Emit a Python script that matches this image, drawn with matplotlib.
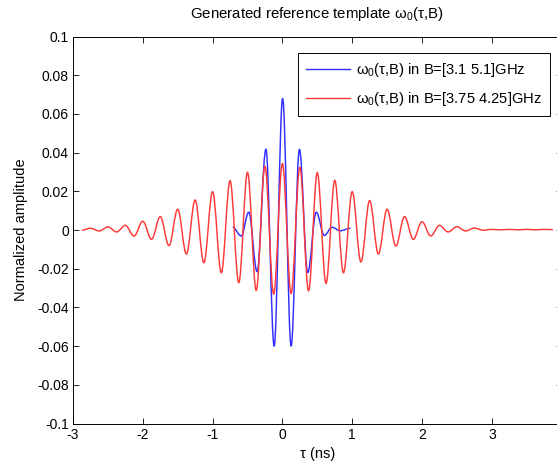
import matplotlib
matplotlib.use("Agg")
import matplotlib.pyplot as plt
from matplotlib.path import Path
from matplotlib.patches import PathPatch
from matplotlib.lines import Line2D

plt.rcParams['font.family'] = ['Liberation Sans', 'DejaVu Sans']
plt.rcParams['mathtext.fontset'] = 'custom'
plt.rcParams['mathtext.rm'] = 'Liberation Sans'
plt.rcParams['mathtext.it'] = 'Liberation Sans'

# ---- data (extrema of each waveform) ----
blue_t = [-0.712, -0.59, -0.482, -0.363, -0.236, -0.118, 0.003, 0.125,
          0.244, 0.363, 0.485, 0.60, 0.712, 0.83, 0.974]
blue_v = [0.0014, -0.0031, 0.0092, -0.0215, 0.0417, -0.0600, 0.0680, -0.0600,
          0.0417, -0.0220, 0.0092, -0.0028, 0.0014, -0.0004, 0.0009]

red_t = [-2.875, -2.75, -2.625, -2.5, -2.375, -2.25, -2.125, -2.0, -1.875,
         -1.75, -1.625, -1.5, -1.375, -1.25, -1.125, -1.0, -0.875, -0.75,
         -0.625, -0.5, -0.375, -0.25, -0.125, 0.0, 0.125, 0.25, 0.375, 0.5,
         0.625, 0.75, 0.875, 1.0, 1.125, 1.25, 1.375, 1.5, 1.625, 1.75, 1.875,
         2.0, 2.125, 2.25, 2.375, 2.5, 2.625, 2.75, 2.875, 3.0, 3.125, 3.25,
         3.375, 3.5, 3.625, 3.75, 3.875]
red_v = [-0.0001, 0.0009, -0.0005, 0.0016, -0.0010, 0.0024, -0.0031, 0.0045,
         -0.0048, 0.0069, -0.0081, 0.0107, -0.0124, 0.0155, -0.0169, 0.0198,
         -0.0221, 0.0255, -0.0272, 0.0298, -0.0312, 0.0329, -0.0331, 0.0343,
         -0.0328, 0.0324, -0.0314, 0.0296, -0.0276, 0.0256, -0.0221, 0.0198,
         -0.0165, 0.0152, -0.0124, 0.0107, -0.0083, 0.0069, -0.0048, 0.0043,
         -0.0031, 0.0024, -0.0010, 0.0017, -0.0005, 0.0010, -0.0001, 0.0003,
         0.0001, 0.0003, 0.0001, 0.0003, 0.0001, 0.0003, 0.0002]

labels = ['ω$_0$(τ,B) in B=[3.1 5.1]GHz', 'ω$_0$(τ,B) in B=[3.75 4.25]GHz']
colors = ['#2f2fff', '#ff3838']
xticks = [-3, -2, -1, 0, 1, 2, 3, 4]
xticklabels = ['-3', '-2', '-1', '0', '1', '2', '3', '']
yticks = [-0.1, -0.08, -0.06, -0.04, -0.02, 0, 0.02, 0.04, 0.06, 0.08, 0.1]
yticklabels = ['-0.1', '-0.08', '-0.06', '-0.04', '-0.02', '0', '0.02',
               '0.04', '0.06', '0.08', '0.1']


def smooth_path(t, v, c=0.36):
    verts = [(t[0], v[0])]
    codes = [Path.MOVETO]
    for i in range(len(t) - 1):
        h = t[i + 1] - t[i]
        verts += [(t[i] + c * h, v[i]), (t[i + 1] - c * h, v[i + 1]),
                  (t[i + 1], v[i + 1])]
        codes += [Path.CURVE4] * 3
    return Path(verts, codes)


fig = plt.figure(figsize=(5.57, 4.68), dpi=100)
W, H = 557, 468
left, right, top, bottom = 73, 561.6, 36.5, 423.5
ax = fig.add_axes([left / W, 1 - bottom / H, (right - left) / W, (bottom - top) / H])

for (t, v), col in zip([(blue_t, blue_v), (red_t, red_v)], colors):
    ax.add_patch(PathPatch(smooth_path(t, v), facecolor='none', edgecolor=col,
                           lw=1.05, transform=ax.transData))

ax.set_xlim(-3, 4)
ax.set_ylim(-0.1, 0.1)
ax.set_xticks(xticks)
ax.set_xticklabels(xticklabels)
ax.set_yticks(yticks)
ax.set_yticklabels(yticklabels)
ax.tick_params(direction='in', length=4.5, width=0.6, top=True, right=True,
               labelsize=10, pad=3, colors='black')
for s in ax.spines.values():
    s.set_linewidth(0.7)

ax.set_title('Generated reference template ω$_0$(τ,B)', fontsize=10.8, pad=13)
ax.set_xlabel('τ (ns)', fontsize=10.5, labelpad=4)
ax.set_ylabel('Normalized amplitude', fontsize=10.5)
ax.yaxis.set_label_coords(-0.092, 0.5)

handles = [Line2D([], [], color=c, lw=1.0) for c in colors]
leg = ax.legend(handles, labels, loc='upper right',
                bbox_to_anchor=(550 / W, 1 - 53 / H), bbox_transform=fig.transFigure,
                borderaxespad=0, fontsize=10.6, fancybox=False, framealpha=1,
                edgecolor='black', handlelength=3.0, handletextpad=0.4,
                labelspacing=0.72, borderpad=0.55)
leg.get_frame().set_linewidth(0.7)

fig.savefig('out.png', dpi=100)
